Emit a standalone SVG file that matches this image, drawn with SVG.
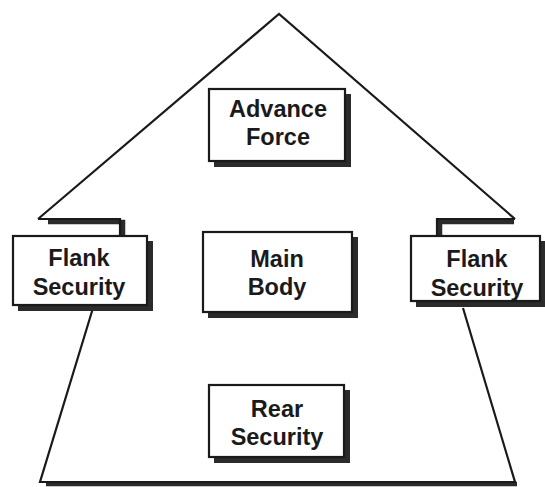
<svg xmlns="http://www.w3.org/2000/svg" width="545" height="487" viewBox="0 0 545 487">
  <style>
    .box { fill: #ffffff; stroke: #1a1a1a; stroke-width: 2.2; }
    .shadow { fill: #2b2b2b; }
    .line { fill: none; stroke: #1a1a1a; stroke-width: 2.2; stroke-linejoin: miter; }
    .lineShadow { fill: none; stroke: #2b2b2b; stroke-width: 4.5; }
    .label { font-family: "Liberation Sans", Arial, sans-serif; font-weight: bold; font-size: 23.5px; fill: #1a1a1a; text-anchor: middle; }
  </style>
  <rect width="545" height="487" fill="#ffffff"/>

  <!-- outer formation outline: roof, ledges, sides and base -->
  <g id="frame">
    <!-- shadows under ledges and base -->
    <polyline class="lineShadow" points="48,222 123,222 123,236"/>
    <polyline class="lineShadow" points="440,236 440,222 514,222"/>
    <line class="lineShadow" x1="46" y1="484" x2="517" y2="484"/>
    <!-- roof -->
    <polyline class="line" points="38,219 279,14 515,219"/>
    <!-- left ledge -->
    <polyline class="line" points="38,219 120,219 120,236"/>
    <!-- right ledge -->
    <polyline class="line" points="515,219 437,219 437,236"/>
    <!-- sides and base -->
    <polyline class="line" points="93,308 40,482 515,482 463,308"/>
  </g>

  <g id="advance-force">
    <rect class="shadow" x="214" y="94" width="137" height="73"/>
    <rect class="box" x="209" y="89" width="136" height="72"/>
    <text class="label" x="278" y="117">Advance</text>
    <text class="label" x="278" y="145">Force</text>
  </g>

  <g id="main-body">
    <rect class="shadow" x="208" y="237" width="150" height="81"/>
    <rect class="box" x="203" y="232" width="149" height="80"/>
    <text class="label" x="277" y="267">Main</text>
    <text class="label" x="277" y="295">Body</text>
  </g>

  <g id="flank-left">
    <rect class="shadow" x="18" y="241" width="135" height="70"/>
    <rect class="box" x="13" y="236" width="134" height="69"/>
    <text class="label" x="79" y="266">Flank</text>
    <text class="label" x="79" y="295">Security</text>
  </g>

  <g id="flank-right">
    <rect class="shadow" x="416" y="241" width="129" height="66"/>
    <rect class="box" x="411" y="236" width="129" height="65"/>
    <text class="label" x="477" y="267">Flank</text>
    <text class="label" x="477" y="296">Security</text>
  </g>

  <g id="rear-security">
    <rect class="shadow" x="214" y="390" width="136" height="73"/>
    <rect class="box" x="209" y="385" width="135" height="72"/>
    <text class="label" x="277" y="417">Rear</text>
    <text class="label" x="277" y="445">Security</text>
  </g>
</svg>
